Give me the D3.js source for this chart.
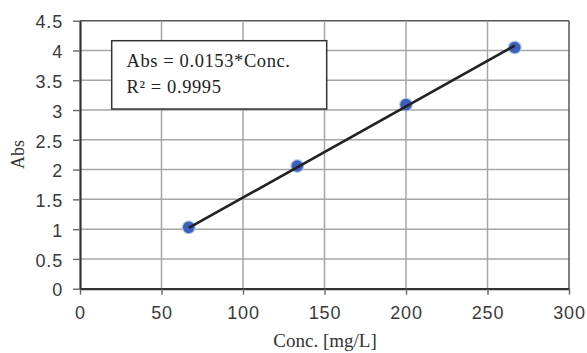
<!DOCTYPE html>
<html><head><meta charset="utf-8">
<script src="https://cdn.jsdelivr.net/npm/d3@7"></script>
<style>body{margin:0;background:#fff;}svg{display:block;}</style>
</head><body>
<script>
const concValues = [66.7, 133.3, 200, 266.7];
const absValues = [1.03, 2.06, 3.09, 4.05];
const slope = 0.0153;
const xTicks = [0, 50, 100, 150, 200, 250, 300];
const yTicks = [0, 0.5, 1, 1.5, 2, 2.5, 3, 3.5, 4, 4.5];
const legendLines = ["Abs = 0.0153*Conc.", "R² = 0.9995"];

const W = 587, H = 353;
const m = {left: 80, right: 569, top: 20.7, bottom: 288.7};
const svg = d3.select("body").append("svg").attr("width", W).attr("height", H);
const x = d3.scaleLinear().domain([0, 300]).range([m.left, m.right]);
const y = d3.scaleLinear().domain([0, 4.5]).range([m.bottom, m.top]);

// grid
svg.append("g").selectAll("line").data(yTicks.slice(1)).join("line")
  .attr("x1", m.left).attr("x2", m.right).attr("y1", d => y(d)).attr("y2", d => y(d))
  .attr("stroke", d => d === 4.5 ? "#555" : "#a6a6a6").attr("stroke-width", 1.5);
svg.append("g").selectAll("line").data(xTicks.slice(1)).join("line")
  .attr("y1", m.top).attr("y2", m.bottom).attr("x1", d => x(d)).attr("x2", d => x(d))
  .attr("stroke", d => d === 300 ? "#555" : "#a6a6a6").attr("stroke-width", 1.5);

// axes
const xAxis = svg.append("g").attr("transform", `translate(0,${m.bottom})`)
  .call(d3.axisBottom(x).tickValues(xTicks).tickSize(6).tickSizeOuter(0).tickPadding(12));
const yAxis = svg.append("g").attr("transform", `translate(${m.left},0)`)
  .call(d3.axisLeft(y).tickValues(yTicks).tickSize(7).tickSizeOuter(0).tickPadding(10).tickFormat(d3.format("")));
[xAxis, yAxis].forEach(g => {
  g.select(".domain").attr("stroke", "#333").attr("stroke-width", 2.2);
  g.selectAll(".tick line").attr("stroke", "#666").attr("stroke-width", 1.4);
  g.selectAll(".tick text").attr("fill", "#3a3a3a").attr("font-family", "Liberation Sans, Arial, sans-serif")
    .attr("font-size", 18).attr("letter-spacing", "0.8px");
});
xAxis.selectAll(".tick text").attr("dy", "0.71em");
yAxis.selectAll(".tick text").attr("dy", "0.4em");

// markers
const pts = concValues.map((c, i) => ({c, a: absValues[i]}));
svg.append("g").selectAll("circle").data(pts).join("circle")
  .attr("cx", d => x(d.c)).attr("cy", d => y(d.a)).attr("r", 7)
  .attr("fill", "#9fc3e6").attr("opacity", 0.8);
svg.append("g").selectAll("circle").data(pts).join("circle")
  .attr("cx", d => x(d.c)).attr("cy", d => y(d.a)).attr("r", 5.8)
  .attr("fill", "#3f5fbf");
// trend line on top of markers
const xs = d3.extent(concValues);
svg.append("line")
  .attr("x1", x(xs[0])).attr("y1", y(slope * xs[0]))
  .attr("x2", x(xs[1])).attr("y2", y(slope * xs[1]))
  .attr("stroke", "#222").attr("stroke-width", 2.6);

// legend box
svg.append("rect").attr("x", 111.7).attr("y", 40.7).attr("width", 215).attr("height", 68.3)
  .attr("fill", "#fff").attr("stroke", "#333").attr("stroke-width", 1.5);
svg.append("g").selectAll("text").data(legendLines).join("text")
  .attr("x", 126.5).attr("y", (d, i) => 67 + i * 26)
  .attr("font-family", "Liberation Serif, Times New Roman, serif").attr("font-size", 18.5)
  .attr("letter-spacing", "0.6px")
  .attr("fill", "#222").text(d => d);

// axis titles
svg.append("text").attr("x", 325).attr("y", 346.7)
  .attr("text-anchor", "middle").attr("font-family", "Liberation Serif, Times New Roman, serif")
  .attr("font-size", 19).attr("fill", "#333").text("Conc. [mg/L]");
svg.append("text").attr("transform", "translate(24,154.5) rotate(-90)")
  .attr("text-anchor", "middle").attr("font-family", "Liberation Serif, Times New Roman, serif")
  .attr("font-size", 18).attr("fill", "#333").text("Abs");
</script>
</body></html>
